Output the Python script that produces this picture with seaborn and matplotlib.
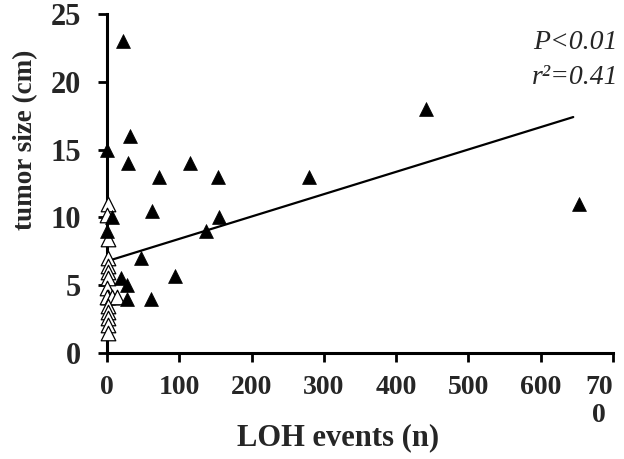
import numpy as np
import pandas as pd
import seaborn as sns
import matplotlib
matplotlib.use("Agg")
import matplotlib.pyplot as plt

# filled triangles (LOH events > 0 group)
filled_x = [22, 0, 32, 29, 115, 72, 154, 62, 7, 155, 0, 137, 47, 19, 28, 94, 27, 61, 280, 441, 653]
filled_y = [23, 15, 16, 14, 14, 13, 13, 10.5, 10, 10, 9, 9, 7, 5.5, 5, 5.7, 4, 4, 13, 18, 11]

# open triangles (clustered near zero)
open_x = [1, 0, 1, 1, 1, 1, 1, 0, 1, 0, 7, 14, 1, 1, 1, 1, 1]
open_y = [11, 10.2, 8.4, 7, 6.4, 6, 5.5, 4.8, 4.1, 4.1, 4.1, 4.1, 3.5, 3, 2.6, 2.1, 1.5]

# regression line end points
line_x = [8, 645]
line_y = [6.9, 17.4]

x_ticks = [0, 100, 200, 300, 400, 500, 600, 700]
x_ticklabels = ["0", "100", "200", "300", "400", "500", "600", "70\n0"]
y_ticks = [0, 5, 10, 15, 20, 25]

sns.set_style("white")
plt.rcParams["font.family"] = ["Liberation Serif", "DejaVu Serif"]

fig = plt.figure(figsize=(6.24, 4.59), dpi=100)
ax = fig.add_axes([107 / 624, 1 - 353 / 459, 506 / 624, 339 / 459])

df_open = pd.DataFrame({"x": open_x, "y": open_y})
df_filled = pd.DataFrame({"x": filled_x, "y": filled_y})

sns.scatterplot(data=df_open, x="x", y="y", marker="^", s=110, color="white",
                edgecolor="black", linewidth=0.9, ax=ax, clip_on=False, zorder=3)
sns.scatterplot(data=df_filled, x="x", y="y", marker="^", s=100, color="black",
                edgecolor="black", linewidth=0.5, ax=ax, clip_on=False, zorder=4)
sns.lineplot(x=line_x, y=line_y, color="black", linewidth=1.6, ax=ax, zorder=2)

ax.set_xlim(0, 700)
ax.set_ylim(0, 25)
ax.set_xticks(x_ticks)
ax.set_xticklabels(x_ticklabels, fontsize=20, fontweight="bold", multialignment="center")
ax.set_yticks(y_ticks)
ax.set_yticklabels([str(v) for v in y_ticks], fontsize=22, fontweight="bold")

# the wrapped last label sits left of its tick, as in the original
ax.get_xticklabels()[-1].set_horizontalalignment("right")

sns.despine(ax=ax)
for side in ["left", "bottom"]:
    ax.spines[side].set_linewidth(2.2)
    ax.spines[side].set_color("black")
ax.tick_params(axis="both", direction="out", length=6.5, width=2, color="black", left=True, bottom=True)
ax.tick_params(axis="y", pad=12)
ax.tick_params(axis="x", pad=9)

ax.set_xlabel("LOH events (n)", fontsize=22, fontweight="bold")
ax.set_ylabel("tumor size (cm)", fontsize=19.5, fontweight="bold")
ax.xaxis.set_label_coords(0.456, -0.206)
ax.yaxis.set_label_coords(-0.136, 0.628)

fig.text(618 / 624, 1 - 49 / 459, "P<0.01", ha="right", va="baseline",
         fontsize=20, fontstyle="italic")
fig.text(618 / 624, 1 - 84 / 459, "r²=0.41", ha="right", va="baseline",
         fontsize=20, fontstyle="italic")

fig.savefig("out.png", dpi=100)
